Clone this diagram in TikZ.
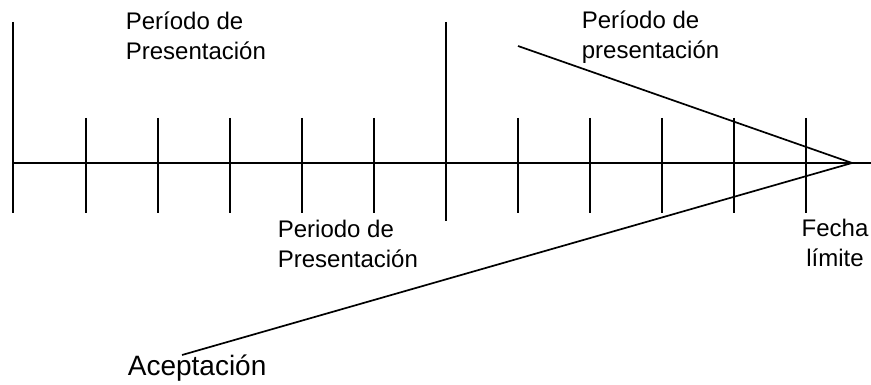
\documentclass[tikz,border=0pt]{standalone}
\usepackage{fontspec}
\setmainfont{Liberation Sans}

\tikzset{
    lbl/.style={font=\fontsize{24}{30}\selectfont, inner sep=0pt, align=left},
    bigl/.style={font=\fontsize{28}{34}\selectfont, inner sep=0pt},
}

\begin{document}
\begin{tikzpicture}[x=1pt, y=-1pt, line width=1.7pt]
    \useasboundingbox (0,0) rectangle (871,385);

    % time axis and ticks
    \draw (13,163) -- (871,163);
    \draw (13,22) -- (13,213);
    \draw (446,22) -- (446,221);
    \draw (86,118) -- (86,213);
    \draw (158,118) -- (158,213);
    \draw (230,118) -- (230,213);
    \draw (302,118) -- (302,213);
    \draw (374,118) -- (374,213);
    \draw (518,118) -- (518,213);
    \draw (590,118) -- (590,213);
    \draw (662,118) -- (662,213);
    \draw (734,118) -- (734,213);
    \draw (806,118) -- (806,213);

    % deadline and the two converging lines
    \coordinate (deadline) at (852,163);
    \coordinate (upstart) at (518,46);
    \coordinate (acstart) at (182,355);
    \draw (upstart) -- (deadline);
    \draw (acstart) -- (deadline);

    \node[lbl, anchor=base west] (period1) at (125,60) {Período de\\Presentación};
    \node[lbl, anchor=base west] (period2) at (581,59) {Período de\\presentación};
    \node[lbl, anchor=base west] (period3) at (277,267) {Periodo de\\Presentación};
    \node[lbl, align=center, anchor=base] (limit) at (835,266) {Fecha\\límite};
    \node[bigl, anchor=base west] (accept) at (127,375) {Aceptación};
\end{tikzpicture}
\end{document}
